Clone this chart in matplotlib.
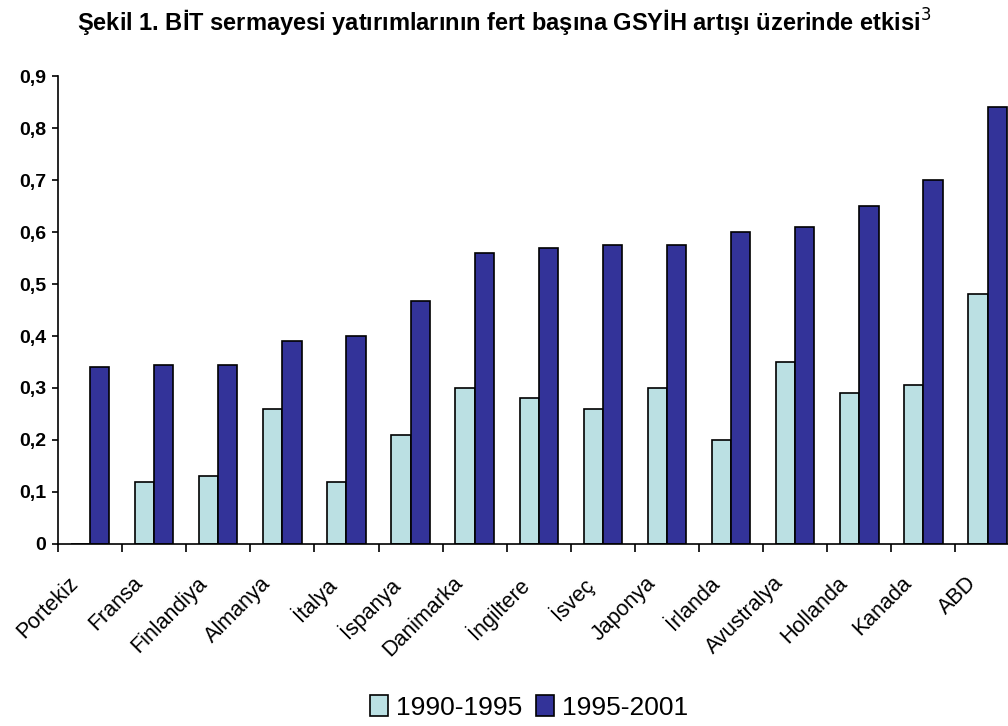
import matplotlib
matplotlib.use("Agg")
import matplotlib.pyplot as plt
import matplotlib.transforms as mtransforms
import numpy as np

plt.rcParams['font.family'] = ['Liberation Sans', 'DejaVu Sans']

countries = ["Portekiz", "Fransa", "Finlandiya", "Almanya", "İtalya", "İspanya",
             "Danimarka", "İngiltere", "İsveç", "Japonya", "İrlanda", "Avustralya",
             "Hollanda", "Kanada", "ABD"]
v1990 = [0.0, 0.12, 0.13, 0.26, 0.12, 0.21, 0.30, 0.28, 0.26, 0.30, 0.20, 0.35, 0.29, 0.305, 0.48]
v1995 = [0.34, 0.345, 0.345, 0.39, 0.40, 0.468, 0.56, 0.57, 0.575, 0.575, 0.60, 0.61, 0.65, 0.70, 0.84]
labels = ["1990-1995", "1995-2001"]

fig = plt.figure(figsize=(10.08, 7.26), dpi=100)
ax = fig.add_axes([0.0575, 0.2507, 0.954, 0.6446])

x = np.arange(len(countries))
w = 0.3
ax.bar(x - w/2, v1990, w, color="#BBE0E3", edgecolor="black", linewidth=1.2, label=labels[0])
ax.bar(x + w/2, v1995, w, color="#333399", edgecolor="black", linewidth=1.2, label=labels[1])

ax.set_xlim(-0.5, len(countries) - 0.5)
ax.set_ylim(0, 0.9)
ax.set_yticks(np.arange(0, 0.91, 0.1))
ax.set_yticklabels(["0"] + ["0,%d" % i for i in range(1, 10)], fontsize=14, fontweight="bold")

ax.set_xticks(np.arange(-0.5, len(countries), 1.0))
ax.set_xticklabels([])
ax.set_xticks(x, minor=True)
ax.set_xticklabels(countries, minor=True, rotation=45, ha="right", rotation_mode="anchor", fontsize=15.5)
ax.tick_params(axis="x", which="minor", length=0, pad=15)
ax.tick_params(axis="x", which="major", length=6, width=1.2, direction="out")
ax.tick_params(axis="y", length=4.5, width=1.2, direction="out", pad=4)

# shift the rotated labels to the lower left, like the original
shift = mtransforms.ScaledTranslation(-22 / 100, -8 / 100, fig.dpi_scale_trans)
for lab in ax.get_xticklabels(minor=True):
    lab.set_transform(lab.get_transform() + shift)

for s in ["top", "right"]:
    ax.spines[s].set_visible(False)
for s in ["left", "bottom"]:
    ax.spines[s].set_linewidth(1.2)

fig.text(0.5, 0.968, "Şekil 1. BİT sermayesi yatırımlarının fert başına GSYİH artışı üzerinde etkisi$^3$",
         ha="center", va="center", fontsize=17, fontweight="bold")

fig.legend(loc="center", bbox_to_anchor=(0.525, 0.026), ncol=2, frameon=False,
           fontsize=19, handlelength=0.7, handleheight=0.9, handletextpad=0.3, columnspacing=0.5,
           borderpad=0)

fig.savefig("out.png", dpi=100)
